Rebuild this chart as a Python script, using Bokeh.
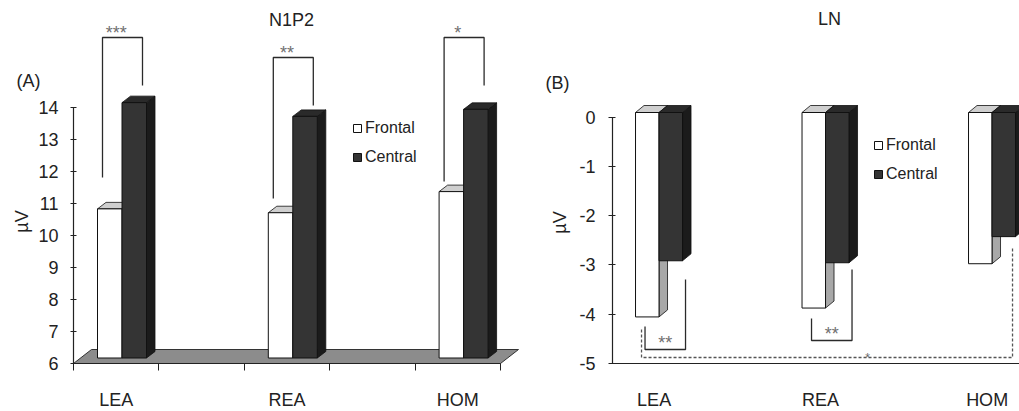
import math
from bokeh.plotting import figure
from bokeh.layouts import row
from bokeh.models import Range1d, FixedTicker, Legend, LegendItem, Label
from bokeh.embed import file_html
from bokeh.resources import INLINE

# ------------------------------------------------------------------ data
categories = ["LEA", "REA", "HOM"]
n1p2_frontal = [10.66, 10.54, 11.20]
n1p2_central = [13.98, 13.55, 13.77]
ln_frontal = [-4.15, -3.97, -3.07]
ln_central = [-3.01, -3.05, -2.52]
n1p2_stars = ["***", "**", "*"]
ln_stars = ["**", "**"]          # LEA, REA : frontal vs central
ln_trend_star = "*"              # frontal LEA vs central HOM
n1p2_ticks = [6, 7, 8, 9, 10, 11, 12, 13, 14]
ln_ticks = [0, -1, -2, -3, -4, -5]
series_names = ["Frontal", "Central"]

# ------------------------------------------------------------------ style / layout
FONT = "Liberation Sans"
TXT = "#222222"
EDGE = "#111111"
FR_FRONT, FR_TOP, FR_SIDE = "#ffffff", "#cfcfcf", "#a8a8a8"
CE_FRONT, CE_TOP, CE_SIDE = "#343434", "#2a2a2a", "#1b1b1b"
FLOOR = "#8c8c8c"
TICK_FS = "18px"

H = 411
A_W, B_W = 520, 499
A_OX, A_OY = 73, 363           # page pixel of the N1P2 axes origin (slot 0, 6 µV)
B_OX, B_OY = 612, 363          # page pixel of the LN axes origin (slot 0, -5 µV)
A_PXS, A_PXU, A_Y0 = 85.4, 32.0, n1p2_ticks[0]
B_PXS, B_PXU, B_Y0 = 83.25, 49.26, ln_ticks[-1]

n_slots = 2 * len(categories) - 1
centers = [2 * i + 0.5 for i in range(len(categories))]


def ax(px): return (px - A_OX) / A_PXS
def ay(py): return A_Y0 + (A_OY - py) / A_PXU
def bx(px): return (px - B_OX) / B_PXS
def by(py): return B_Y0 + (B_OY - py) / B_PXU


def base_fig(w, xr, yr, x_fixed, y_fixed):
    p = figure(width=w, height=H, x_range=xr, y_range=yr, output_backend="svg",
               toolbar_location=None, min_border=0, min_border_left=0,
               min_border_bottom=0, min_border_top=0, min_border_right=0)
    p.xgrid.visible = False
    p.ygrid.visible = False
    p.outline_line_color = None
    p.background_fill_color = "white"
    p.border_fill_color = "white"
    p.xaxis[0].fixed_location = y_fixed
    p.yaxis[0].fixed_location = x_fixed
    for a in (p.xaxis[0], p.yaxis[0]):
        a.axis_line_color = "#222222"
        a.axis_line_width = 1.2
        a.major_tick_line_color = "#222222"
        a.minor_tick_line_color = "#222222"
        a.major_label_text_font = FONT
        a.major_label_text_font_size = TICK_FS
        a.major_label_text_color = TXT
    return p


def bars_3d(p, vals_f, vals_c, base, pxs, pxu, bar_px, shift_px, depth_px):
    w = bar_px / pxs
    sx, sy = shift_px[0] / pxs, shift_px[1] / pxu
    ddx, ddy = depth_px[0] / pxs, depth_px[1] / pxu
    f_l = [c + sx - w for c in centers]
    f_r = [c + sx for c in centers]
    c_l = f_r
    c_r = [c + sx + w for c in centers]

    def faces(lefts, rights, vals):
        lo = [min(base, v) + sy for v in vals]
        hi = [max(base, v) + sy for v in vals]
        txs = [[l, r, r + ddx, l + ddx] for l, r in zip(lefts, rights)]
        tys = [[h, h, h + ddy, h + ddy] for h in hi]
        sxs = [[r, r, r + ddx, r + ddx] for r in rights]
        sys_ = [[a, h, h + ddy, a + ddy] for a, h in zip(lo, hi)]
        return lo, hi, txs, tys, sxs, sys_

    lo_f, hi_f, tx_f, ty_f, sx_f, sy_f = faces(f_l, f_r, vals_f)
    lo_c, hi_c, tx_c, ty_c, sx_c, sy_c = faces(c_l, c_r, vals_c)
    p.patches(sx_f, sy_f, fill_color=FR_SIDE, line_color=EDGE, line_width=0.8)
    p.patches(tx_f, ty_f, fill_color=FR_TOP, line_color=EDGE, line_width=0.8)
    rf = p.quad(left=f_l, right=f_r, bottom=lo_f, top=hi_f,
                fill_color=FR_FRONT, line_color=EDGE, line_width=1)
    p.patches(sx_c, sy_c, fill_color=CE_SIDE, line_color=EDGE, line_width=0.8)
    p.patches(tx_c, ty_c, fill_color=CE_TOP, line_color=EDGE, line_width=0.8)
    rc = p.quad(left=c_l, right=c_r, bottom=lo_c, top=hi_c,
                fill_color=CE_FRONT, line_color=EDGE, line_width=1)
    return rf, rc, dict(f_l=f_l, c_r=c_r)


def add_legend(p, rf, rc, loc):
    leg = Legend(items=[LegendItem(label=series_names[0], renderers=[rf]),
                        LegendItem(label=series_names[1], renderers=[rc])],
                 location=loc, orientation="vertical", glyph_width=10, glyph_height=10,
                 label_height=19, label_standoff=3, spacing=10, padding=0, margin=0,
                 border_line_color=None, background_fill_alpha=0,
                 label_text_font=FONT, label_text_font_size="16px", label_text_color=TXT)
    p.add_layout(leg)


def label(p, x, y, text, size="18px", angle=0.0, baseline="middle", color=TXT):
    p.add_layout(Label(x=x, y=y, text=text, text_font=FONT, text_font_size=size,
                       text_color=color, text_align="center", text_baseline=baseline,
                       angle=angle))


# ================================================================== panel A : N1P2
pA = base_fig(A_W, Range1d(ax(0), ax(A_W)), Range1d(ay(H), ay(0)), 0, A_Y0)
ya = pA.yaxis[0]
ya.ticker = FixedTicker(ticks=n1p2_ticks, minor_ticks=[])
ya.bounds = (min(n1p2_ticks), max(n1p2_ticks))
ya.major_tick_in, ya.major_tick_out = 3, 3
ya.major_label_standoff = 12
xa = pA.xaxis[0]
xa.ticker = FixedTicker(ticks=centers, minor_ticks=list(range(n_slots + 1)))
xa.major_label_overrides = {c: name for c, name in zip(centers, categories)}
xa.bounds = (0, n_slots)
xa.major_tick_out = 0
xa.major_tick_in = 0
xa.minor_tick_in = 0
xa.minor_tick_out = 7
xa.major_label_standoff = 19

# floor of the 3-D chart
fdx, fdy = 18 / A_PXS, 14 / A_PXU
pA.patch([0, n_slots, n_slots + fdx, fdx], [A_Y0, A_Y0, A_Y0 + fdy, A_Y0 + fdy],
         fill_color=FLOOR, line_color="#333333", line_width=1, level="underlay")

rfA, rcA, gA = bars_3d(pA, n1p2_frontal, n1p2_central, A_Y0, A_PXS, A_PXU,
                       24.5, (5.8, 5.5), (8.5, 6.5))

# significance brackets (page-pixel layout)
A_BR_TOP = [37, 57, 37]
A_BR_LEFT_END = [177, 198, 181]
A_BR_RIGHT_END = [85, 105, 85]
xs, ys = [], []
for i in range(len(categories)):
    xl = gA["f_l"][i] + 5 / A_PXS
    xr = gA["c_r"][i] - 4 / A_PXS
    xs.append([xl, xl, xr, xr])
    ys.append([ay(A_BR_LEFT_END[i]), ay(A_BR_TOP[i]), ay(A_BR_TOP[i]), ay(A_BR_RIGHT_END[i])])
pA.multi_line(xs, ys, line_color="#2a2a2a", line_width=1.3)
pA.text(x=centers, y=[ay(t - 5) for t in A_BR_TOP], text=n1p2_stars,
        text_font={"value": FONT}, text_font_size="18px", text_color="#707070",
        text_align="center", text_baseline="alphabetic")

add_legend(pA, rfA, rcA, (352, H - 166.5))

label(pA, ax(28), ay(80), "(A)")
label(pA, ax(291), ay(19), "N1P2")
label(pA, ax(21), ay(221), "µV", angle=math.pi / 2)

# ================================================================== panel B : LN
pB = base_fig(B_W, Range1d(bx(A_W), bx(A_W + B_W)), Range1d(by(H), by(0)), 0, B_Y0)
yb = pB.yaxis[0]
yb.ticker = FixedTicker(ticks=ln_ticks, minor_ticks=[])
yb.bounds = (min(ln_ticks), max(ln_ticks))
yb.major_tick_in, yb.major_tick_out = 3, 4
yb.major_label_standoff = 13
yb.major_label_overrides = {t: str(t) for t in ln_ticks}
xb = pB.xaxis[0]
xb.ticker = FixedTicker(ticks=centers, minor_ticks=[])
xb.major_label_overrides = {c: name for c, name in zip(centers, categories)}
xb.bounds = (0, bx(A_W + B_W))
xb.major_tick_out = 0
xb.major_tick_in = 0
xb.major_label_standoff = 26

rfB, rcB, gB = bars_3d(pB, ln_frontal, ln_central, 0, B_PXS, B_PXU,
                       23.5, (4.9, 4.7), (8.5, 7.0))

B_BR_LEFT_TOP = [326, 318]
B_BR_BOTTOM = [349, 340]
B_BR_RIGHT_TOP = [279, 269]
xs, ys, sx_, sy_ = [], [], [], []
for i in range(len(ln_stars)):
    xl = gB["f_l"][i] + 9.5 / B_PXS
    xr = gB["c_r"][i] + 3 / B_PXS
    xs.append([xl, xl, xr, xr])
    ys.append([by(B_BR_LEFT_TOP[i]), by(B_BR_BOTTOM[i]), by(B_BR_BOTTOM[i]), by(B_BR_RIGHT_TOP[i])])
    sx_.append((xl + xr) / 2)
    sy_.append(by(B_BR_BOTTOM[i] - 7))
pB.multi_line(xs, ys, line_color="#2a2a2a", line_width=1.3)
pB.text(x=sx_, y=sy_, text=ln_stars, text_font={"value": FONT}, text_font_size="18px",
        text_color="#707070", text_align="center", text_baseline="alphabetic")

# dashed bracket: frontal LEA vs central HOM
dl = gB["f_l"][0] + 6 / B_PXS
dr = gB["c_r"][-1] - 3 / B_PXS
pB.line([dl, dl, dr, dr], [by(329), by(357), by(357), by(248)],
        line_color="#555555", line_width=1.3, line_dash="3 2")
pB.text(x=[bx(867)], y=[by(357)], text=[ln_trend_star], text_font={"value": FONT},
        text_font_size="12px", text_color="#666666", text_align="center",
        text_baseline="alphabetic")

add_legend(pB, rfB, rcB, (873 - A_W, H - 183.5))

label(pB, bx(557), by(82), "(B)")
label(pB, bx(829), by(18), "LN")
label(pB, bx(559), by(222), "µV", angle=math.pi / 2)

layout = row(pA, pB)
open("out.html", "w").write(file_html(layout, INLINE))
